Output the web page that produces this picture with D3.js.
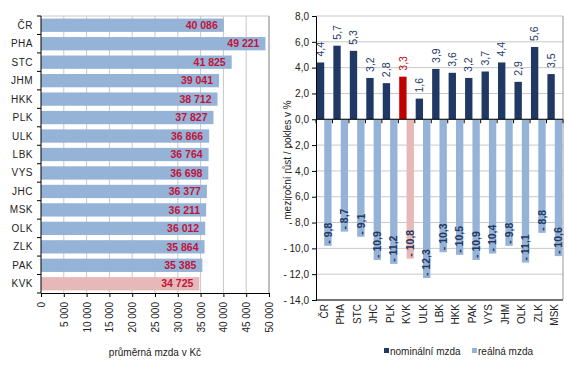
<!DOCTYPE html>
<html>
<head>
<meta charset="utf-8">
<script src="https://cdn.jsdelivr.net/npm/d3@7"></script>
<style>
  body { margin: 0; background: #fff; }
  text { font-family: "Liberation Sans", Arial, sans-serif; }
</style>
</head>
<body>
<div id="chart"></div>
<script>
// left chart: average wage by region
const regions = ["ČR", "PHA", "STC", "JHM", "HKK", "PLK", "ULK", "LBK", "VYS", "JHC", "MSK", "OLK", "ZLK", "PAK", "KVK"];
const wages = [40086, 49221, 41825, 39041, 38712, 37827, 36866, 36764, 36698, 36377, 36211, 36012, 35864, 35385, 34725];
const wageTicks = [0, 5000, 10000, 15000, 20000, 25000, 30000, 35000, 40000, 45000, 50000];

// right chart: year-on-year change, %
const regions2 = ["ČR", "PHA", "STC", "JHC", "PLK", "KVK", "ULK", "LBK", "HKK", "PAK", "VYS", "JHM", "OLK", "ZLK", "MSK"];
const nominal = [4.4, 5.7, 5.3, 3.2, 2.8, 3.3, 1.6, 3.9, 3.6, 3.2, 3.7, 4.4, 2.9, 5.6, 3.5];
const real = [-9.8, -8.7, -9.1, -10.9, -11.2, -10.8, -12.3, -10.3, -10.5, -10.9, -10.4, -9.8, -11.1, -8.8, -10.6];
const pctTicks = [8, 6, 4, 2, 0, -2, -4, -6, -8, -10, -12, -14];
const seriesNames = ["nominální mzda", "reálná mzda"];

const W = 567, H = 384;
const navy = "#1f3864", lightBlue = "#95b3d7", red = "#c00000", pink = "#e6b9b8";
const grid = "#c8c8c8";

const svg = d3.select("#chart").append("svg")
    .attr("width", W).attr("height", H);
svg.append("rect").attr("width", W).attr("height", H).attr("fill", "#fff");

const fmtKc = d => d3.format(",")(d).replace(/,/g, " ");
const fmtPct = d => (d < 0 ? "- " : "") + Math.abs(d).toFixed(1).replace(".", ",");

// ---------- left chart ----------
const x1 = d3.scaleLinear().domain([0, 50000]).range([41, 269]);
const y1 = d3.scaleBand().domain(regions).range([16, 293]).paddingInner(0.28).paddingOuter(0.14);
const left = svg.append("g");

left.selectAll("line.grid")
    .data(wageTicks.slice(1))
    .enter().append("line")
    .attr("x1", d => x1(d)).attr("x2", d => x1(d))
    .attr("y1", 16).attr("y2", 293)
    .attr("stroke", grid);
left.append("line").attr("x1", 41).attr("x2", 269).attr("y1", 16).attr("y2", 16).attr("stroke", grid);

left.selectAll("rect.bar")
    .data(regions)
    .enter().append("rect")
    .attr("x", x1(0))
    .attr("y", d => y1(d))
    .attr("height", y1.bandwidth())
    .attr("width", (d, i) => x1(wages[i]) - x1(0))
    .attr("fill", d => d === "KVK" ? pink : lightBlue);

left.selectAll("text.val")
    .data(regions)
    .enter().append("text")
    .attr("x", (d, i) => x1(wages[i]) - 6)
    .attr("y", d => y1(d) + y1.bandwidth() / 2)
    .attr("dy", "0.35em")
    .attr("text-anchor", "end")
    .attr("font-size", 10.5)
    .attr("font-weight", "bold")
    .attr("fill", "#c0143c")
    .text((d, i) => fmtKc(wages[i]));

// y axis with ticks between categories
const yAx = left.append("g");
yAx.append("line").attr("x1", 41).attr("x2", 41).attr("y1", 16).attr("y2", 293).attr("stroke", "#000");
const step1 = (293 - 16) / regions.length;
yAx.selectAll("line.tk")
    .data(d3.range(regions.length + 1))
    .enter().append("line")
    .attr("x1", 37).attr("x2", 41)
    .attr("y1", i => 16 + i * step1).attr("y2", i => 16 + i * step1)
    .attr("stroke", "#000");
yAx.selectAll("text")
    .data(regions)
    .enter().append("text")
    .attr("x", 33)
    .attr("y", d => y1(d) + y1.bandwidth() / 2)
    .attr("dy", "0.35em")
    .attr("text-anchor", "end")
    .attr("font-size", 10)
    .attr("letter-spacing", "0.5px")
    .attr("fill", "#222")
    .text(d => d);

const xAx = left.append("g").attr("transform", "translate(0,293)")
    .call(d3.axisBottom(x1).tickValues(wageTicks).tickSize(4).tickFormat(fmtKc));
xAx.select(".domain").attr("stroke", "#000");
xAx.selectAll("text")
    .attr("transform", "rotate(-90)")
    .attr("text-anchor", "end")
    .attr("x", -9).attr("y", 0).attr("dy", "0.35em")
    .attr("font-size", 10)
    .attr("font-family", "Liberation Sans, Arial, sans-serif")
    .attr("fill", "#222");
left.append("line").attr("x1", 269).attr("x2", 269).attr("y1", 16).attr("y2", 293).attr("stroke", "#999");

left.append("text")
    .attr("x", 155).attr("y", 356)
    .attr("text-anchor", "middle")
    .attr("font-size", 10)
    .attr("fill", "#222")
    .text("průměrná mzda v Kč");

// ---------- right chart ----------
const x2 = d3.scaleBand().domain(regions2).range([316, 563]);
const sub = d3.scaleBand().domain(seriesNames).range([0, x2.bandwidth()]).paddingOuter(0.12);
const y2 = d3.scaleLinear().domain([-14, 8]).range([300, 16]);
const right = svg.append("g");

right.selectAll("line.grid")
    .data(pctTicks)
    .enter().append("line")
    .attr("x1", 316).attr("x2", 563)
    .attr("y1", d => y2(d)).attr("y2", d => y2(d))
    .attr("stroke", grid);
right.append("line").attr("x1", 563).attr("x2", 563).attr("y1", 16).attr("y2", 300).attr("stroke", "#999");

right.selectAll("rect.nom")
    .data(regions2)
    .enter().append("rect")
    .attr("x", d => x2(d) + sub(seriesNames[0]))
    .attr("width", sub.bandwidth())
    .attr("y", (d, i) => y2(nominal[i]))
    .attr("height", (d, i) => y2(0) - y2(nominal[i]))
    .attr("fill", d => d === "KVK" ? red : navy);

right.selectAll("rect.real")
    .data(regions2)
    .enter().append("rect")
    .attr("x", d => x2(d) + sub(seriesNames[1]))
    .attr("width", sub.bandwidth())
    .attr("y", y2(0))
    .attr("height", (d, i) => y2(real[i]) - y2(0))
    .attr("fill", d => d === "KVK" ? pink : lightBlue);

right.selectAll("text.nomv")
    .data(regions2)
    .enter().append("text")
    .attr("transform", (d, i) => {
        const cx = x2(d) + sub(seriesNames[0]) + sub.bandwidth() / 2;
        return `translate(${cx},${y2(nominal[i]) - 6}) rotate(-90)`;
    })
    .attr("dy", "0.35em")
    .attr("font-size", 10.5)
    .attr("fill", d => d === "KVK" ? red : navy)
    .text((d, i) => fmtPct(nominal[i]));

right.selectAll("text.realv")
    .data(regions2)
    .enter().append("text")
    .attr("transform", (d, i) => {
        const cx = x2(d) + sub(seriesNames[1]) + sub.bandwidth() / 2;
        return `translate(${cx},${y2(real[i]) - 2}) rotate(-90)`;
    })
    .attr("dy", "0.35em")
    .attr("font-size", 10.5)
    .attr("font-weight", "bold")
    .attr("fill", navy)
    .text((d, i) => fmtPct(real[i]));

// value axis
const yAx2 = right.append("g").attr("transform", "translate(316,0)")
    .call(d3.axisLeft(y2).tickValues(pctTicks).tickSize(4).tickFormat(fmtPct));
yAx2.select(".domain").attr("stroke", "#000");
yAx2.selectAll("text")
    .attr("font-size", 10)
    .attr("font-family", "Liberation Sans, Arial, sans-serif")
    .attr("fill", "#222");

// category axis at zero and bottom
const step2 = x2.step();
[0, -14].forEach(v => {
    right.append("line").attr("x1", 316).attr("x2", 563)
        .attr("y1", y2(v)).attr("y2", y2(v)).attr("stroke", "#000");
});
right.selectAll("line.ctk")
    .data(d3.range(regions2.length + 1))
    .enter().append("line")
    .attr("x1", i => 316 + i * step2).attr("x2", i => 316 + i * step2)
    .attr("y1", y2(0)).attr("y2", y2(0) + 4)
    .attr("stroke", "#000");
right.selectAll("text.cat")
    .data(regions2)
    .enter().append("text")
    .attr("transform", d => `translate(${x2(d) + x2.bandwidth() / 2},304) rotate(-90)`)
    .attr("dy", "0.35em")
    .attr("text-anchor", "end")
    .attr("font-size", 10)
    .attr("fill", "#222")
    .text(d => d);

right.append("text")
    .attr("transform", "translate(287,160) rotate(-90)")
    .attr("text-anchor", "middle")
    .attr("dy", "0.35em")
    .attr("font-size", 10)
    .attr("fill", "#222")
    .text("meziroční růst / pokles v %");

// legend
const legend = right.append("g").attr("transform", "translate(384,352)");
const legX = [0, 88];
seriesNames.forEach((s, i) => {
    const g = legend.append("g").attr("transform", `translate(${legX[i]},0)`);
    g.append("rect").attr("x", 0).attr("y", -4).attr("width", 5).attr("height", 5)
        .attr("fill", i === 0 ? navy : lightBlue);
    g.append("text").attr("x", 6).attr("y", 0).attr("dy", "0.3em")
        .attr("font-size", 10).attr("fill", "#222").text(s);
});
</script>
</body>
</html>
